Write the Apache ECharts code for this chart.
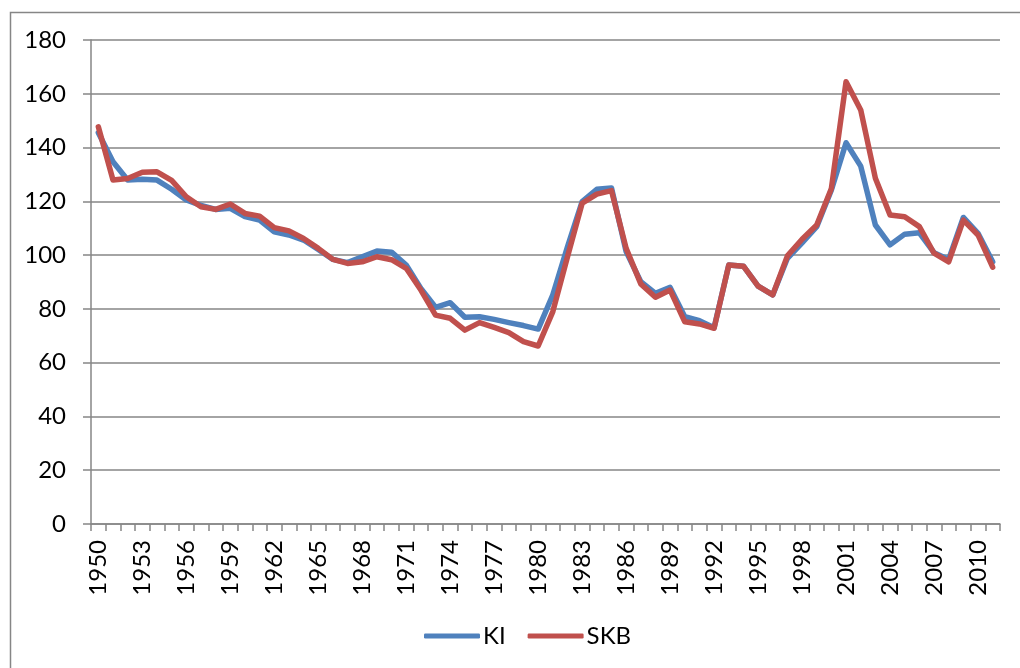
<!DOCTYPE html>
<html>
<head>
<meta charset="utf-8">
<title>KI / SKB</title>
<script src="https://cdn.jsdelivr.net/npm/echarts@6/dist/echarts.min.js"></script>
<style>
  html, body { margin: 0; padding: 0; background: #fff; }
  #main { width: 1020px; height: 668px; }
</style>
</head>
<body>
<div id="main"></div>
<script>
// years 1950-2011
var years = [];
for (var y = 1950; y <= 2011; y++) { years.push(String(y)); }

var yTicks = [0, 20, 40, 60, 80, 100, 120, 140, 160, 180];

var ki = [145.5, 134.7, 127.9, 128.2, 127.9, 124.5, 120.5, 118.5, 117, 117.4,
          114.3, 113, 108.7, 107.5, 105.6, 102.1, 98.4, 97.2, 99.4, 101.5,
          101.1, 96.3, 87.6, 80.6, 82.3, 76.9, 77.1, 76.1, 74.9, 73.8,
          72.5, 85.2, 103.1, 119.9, 124.5, 125, 101.3, 90.1, 85.8, 88,
          77.1, 75.6, 73, 96.3, 95.9, 88.5, 85.2, 98.8, 104.6, 110.6,
          124.2, 141.8, 133.1, 111.2, 103.8, 107.8, 108.3, 100.9, 98.4, 114,
          108.1, 97.5];

var skb = [147.7, 127.9, 128.5, 130.8, 131, 127.8, 121.7, 118, 117, 119,
           115.5, 114.5, 110.2, 109, 106.2, 102.5, 98.4, 96.9, 97.5, 99.4,
           98.3, 95.1, 87, 77.7, 76.5, 72.1, 74.9, 73.1, 71.2, 67.8,
           66.2, 79, 99.4, 119.3, 122.7, 124, 102.5, 89.3, 84.3, 87,
           75.2, 74.4, 72.8, 96.3, 95.9, 88.5, 85.2, 99.7, 105.9, 111.2,
           124.8, 164.5, 154, 128.6, 114.9, 114.3, 110.6, 100.7, 97.5, 113,
           107.5, 95.5];

var axisGray = '#868686';
var font = 'Lato, "Open Sans", sans-serif';

var chart = echarts.init(document.getElementById('main'));
chart.setOption({
    animation: false,
    backgroundColor: '#fff',
    textStyle: { fontFamily: font },
    graphic: [{
        type: 'rect',
        left: 8, top: 10,
        shape: { width: 1100, height: 700 },
        style: { fill: 'none', stroke: axisGray, lineWidth: 1.5 },
        silent: true
    }],
    grid: { left: 91, right: 20, top: 40, bottom: 144, containLabel: false },
    legend: {
        data: ['KI', 'SKB'],
        left: 424,
        top: 624,
        padding: 0,
        icon: 'roundRect',
        itemWidth: 56,
        itemHeight: 5,
        itemGap: 22,
        textStyle: { fontFamily: font, fontSize: 24, color: '#000', padding: [0, 0, 0, -2] }
    },
    xAxis: {
        type: 'category',
        data: years,
        boundaryGap: true,
        axisLine: { lineStyle: { color: axisGray, width: 1.5 } },
        axisTick: { show: true, interval: 0, length: 7, lineStyle: { color: axisGray, width: 1.5 } },
        axisLabel: {
            interval: 2,
            rotate: 90,
            margin: 16,
            fontFamily: font,
            fontSize: 24,
            color: '#000'
        }
    },
    yAxis: {
        type: 'value',
        min: yTicks[0],
        max: yTicks[yTicks.length - 1],
        interval: 20,
        axisLine: { show: true, lineStyle: { color: axisGray, width: 1.5 } },
        axisTick: { show: true, length: 8, lineStyle: { color: axisGray, width: 1.5 } },
        splitLine: { show: true, lineStyle: { color: axisGray, width: 1.5 } },
        axisLabel: {
            margin: 25,
            fontFamily: font,
            fontSize: 24,
            color: '#000'
        }
    },
    series: [
        {
            name: 'KI',
            type: 'line',
            data: ki,
            symbol: 'none',
            color: '#4F81BD',
            lineStyle: { width: 5.5, color: '#4F81BD', cap: 'round', join: 'round' }
        },
        {
            name: 'SKB',
            type: 'line',
            data: skb,
            symbol: 'none',
            color: '#C0504D',
            lineStyle: { width: 5.5, color: '#C0504D', cap: 'round', join: 'round' }
        }
    ]
});
</script>
</body>
</html>
